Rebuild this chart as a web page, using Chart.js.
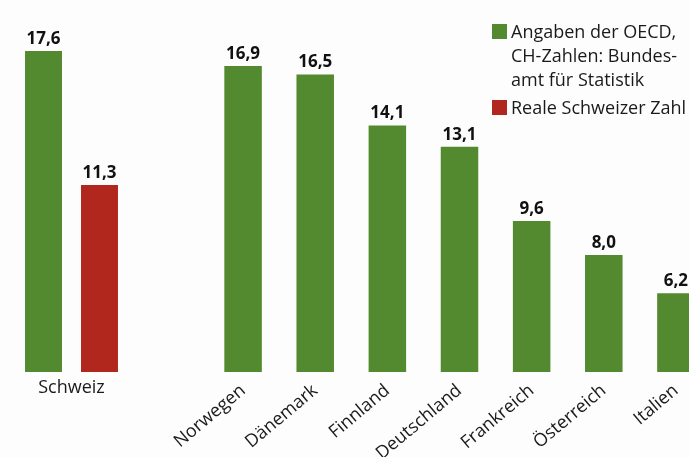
<!DOCTYPE html>
<html lang="de">
<head>
<meta charset="utf-8">
<title>Schweiz im Vergleich</title>
<script src="https://cdn.jsdelivr.net/npm/chart.js@4.4.1/dist/chart.umd.min.js"></script>
<style>
    html, body {
        margin: 0;
        padding: 0;
        width: 689px;
        height: 457px;
        overflow: hidden;
        background: #fdfdfd;
        font-family: "Open Sans", "Noto Sans", sans-serif;
    }
    #swissChart {
        position: absolute;
        left: 0;
        top: 0;
    }
    #countryChart {
        position: absolute;
        left: 120px;
        top: 0;
    }
    .legend {
        position: absolute;
        left: 492px;
        top: 19px;
        color: #1a1a1a;
        font-size: 18px;
        line-height: 24px;
    }
    .legend-item {
        position: relative;
        padding-left: 19px;
        margin-bottom: 4px;
    }
    .legend-item .swatch {
        position: absolute;
        left: 0;
        top: 5px;
        width: 15px;
        height: 15px;
    }
</style>
</head>
<body>
<canvas id="swissChart" width="143" height="457"></canvas>
<canvas id="countryChart" width="592" height="457"></canvas>
<div class="legend" id="legend"></div>

<script>
// Data
const swissLabels = ["Schweiz"];
const swissOecd = [17.6];
const swissReal = [11.3];

const countries = ["Norwegen", "Dänemark", "Finnland", "Deutschland", "Frankreich", "Österreich", "Italien"];
const countryValues = [16.9, 16.5, 14.1, 13.1, 9.6, 8.0, 6.2];

const legendLabels = [
    ["Angaben der OECD,", "CH-Zahlen: Bundes-", "amt für Statistik"],
    ["Reale Schweizer Zahl"],
];

const GREEN = "#538a30";
const RED = "#b1261d";

// value labels above the bars, with German decimal comma
const valueLabels = {
    id: "valueLabels",
    afterDatasetsDraw(chart) {
        const ctx = chart.ctx;
        ctx.save();
        ctx.font = "bold 17px 'Open Sans', sans-serif";
        ctx.fillStyle = "#111";
        ctx.textAlign = "center";
        ctx.textBaseline = "alphabetic";
        chart.data.datasets.forEach((ds, i) => {
            chart.getDatasetMeta(i).data.forEach((bar, j) => {
                const v = ds.data[j];
                if (v == null) return;
                ctx.fillText(v.toFixed(1).replace(".", ","), bar.x, bar.y - 7);
            });
        });
        ctx.restore();
    },
};

const yScale = { display: false, min: 2.5, max: 20 };

function xScale(rotation, padding) {
    return {
        grid: { display: false, drawTicks: false },
        border: { display: false },
        ticks: {
            color: "#1a1a1a",
            font: { family: "'Open Sans', sans-serif", size: 18 },
            minRotation: rotation,
            maxRotation: rotation,
            autoSkip: false,
            padding: padding,
        },
        afterFit(scale) {
            scale.height = 85;
        },
    };
}

const baseOptions = {
    responsive: false,
    animation: false,
    plugins: { legend: { display: false }, tooltip: { enabled: false } },
};

// 1. Schweiz (two bars side by side)
new Chart(document.getElementById("swissChart"), {
    type: "bar",
    data: {
        labels: swissLabels,
        datasets: [
            { data: swissOecd, backgroundColor: GREEN, categoryPercentage: 0.783, barPercentage: 0.66 },
            { data: swissReal, backgroundColor: RED, categoryPercentage: 0.783, barPercentage: 0.66 },
        ],
    },
    options: {
        ...baseOptions,
        layout: { padding: 0 },
        scales: { x: xScale(0, 5), y: yScale },
    },
    plugins: [valueLabels],
});

// 2. Comparison countries
new Chart(document.getElementById("countryChart"), {
    type: "bar",
    data: {
        labels: countries,
        datasets: [
            { data: countryValues, backgroundColor: GREEN, categoryPercentage: 1, barPercentage: 0.52 },
        ],
    },
    options: {
        ...baseOptions,
        layout: { padding: { left: 87, right: 0, top: 0, bottom: 0 } },
        scales: { x: xScale(40, 8), y: yScale },
    },
    plugins: [valueLabels],
});

// 3. Legend
const legendEl = document.getElementById("legend");
legendLabels.forEach((lines, i) => {
    const item = document.createElement("div");
    item.className = "legend-item";
    const sw = document.createElement("span");
    sw.className = "swatch";
    sw.style.background = i === 0 ? GREEN : RED;
    item.appendChild(sw);
    lines.forEach((line, k) => {
        if (k > 0) item.appendChild(document.createElement("br"));
        item.appendChild(document.createTextNode(line));
    });
    legendEl.appendChild(item);
});
</script>
</body>
</html>
